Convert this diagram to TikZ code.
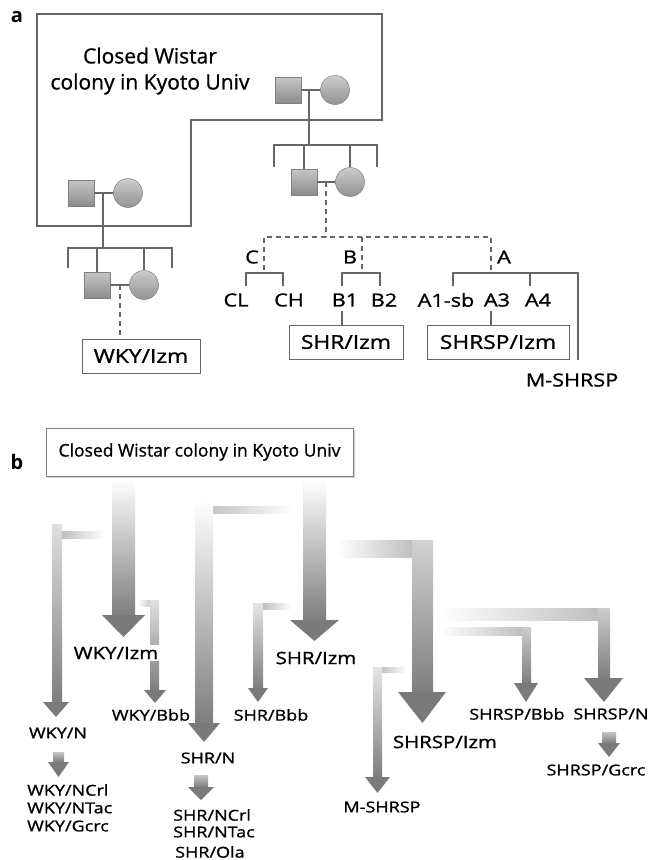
\documentclass[tikz,border=0pt]{standalone}
\usepackage{fontspec}
\setmainfont{Open Sans}
\newfontfamily\wf{Open Sans}[FakeStretch=1.2, FakeBold=1.2]
\newfontfamily\nf{Open Sans}[FakeBold=0.9]
\usetikzlibrary{calc}
\definecolor{lgray}{HTML}{666666}
\definecolor{agray}{HTML}{7E7E7E}
\definecolor{hgray}{HTML}{7A7A7A}
\tikzset{
  ln/.style={draw=lgray, line width=1.5pt},
  dln/.style={draw=lgray, line width=1.5pt, dash pattern=on 5pt off 4pt},
  male/.style={rectangle, draw=gray, line width=0.5pt, minimum width=26pt, minimum height=26pt, inner sep=0pt, top color=gray!45, bottom color=gray!90},
  female/.style={circle, draw=gray, line width=0.5pt, minimum size=29pt, inner sep=0pt, top color=gray!40, bottom color=gray!85},
  alab/.style={font=\wf\fontsize{18}{20}\selectfont, inner sep=1pt},
  abox/.style={draw=lgray, line width=1pt, inner sep=0pt, minimum height=34pt, font=\wf\fontsize{19}{21}\selectfont},
  blab/.style={font=\wf\fontsize{17}{19}\selectfont, inner sep=1.5pt, fill=white},
  slab/.style={font=\wf\fontsize{15}{17}\selectfont, inner sep=1pt},
  panel/.style={font=\fontsize{20}{22}\selectfont\bfseries}
}
\begin{document}
\begin{tikzpicture}[x=1pt,y=-1pt]
\useasboundingbox (0,0) rectangle (653,860);
% ---------------- panel a ----------------
\node[panel] (la) at (17,17) {a};
\draw[ln, line width=1.3pt] (37,14) -- (382,14) -- (382,120) -- (191,120) -- (191,226) -- (37,226) -- cycle;
\node[align=center, font=\nf\fontsize{21}{26}\selectfont] (cw) at (150,71) {Closed Wistar\\colony in Kyoto Univ};
% top couple
\node[male] (m1) at (288,90) {};
\node[female] (f1) at (335,90) {};
\draw[ln] (m1) -- (f1);
\coordinate (c1) at (309,90);
\coordinate (s1) at (309,145);
\draw[ln] (c1) -- (s1);
\draw[ln] (274,167) -- (274,145) -- (377,145) -- (377,167);
% second couple
\node[male] (m2) at (304,182) {};
\node[female] (f2) at (350,182) {};
\draw[ln] (m2) -- (f2);
\draw[ln] (304,145) -- (m2.north);
\draw[ln] (350,145) -- (f2.north);
\coordinate (c2) at (326,182);
\coordinate (d2) at (326,237);
\draw[dln] (c2) -- (d2);
\draw[dln] (264,270) -- (264,237) -- (491,237) -- (491,273);
\draw[dln] (362,237) -- (362,273);
% left couple
\node[male] (m3) at (81,193) {};
\node[female] (f3) at (128,193) {};
\draw[ln] (m3) -- (f3);
\coordinate (c3) at (103,193);
\coordinate (s3) at (103,248);
\draw[ln] (c3) -- (s3);
\draw[ln] (68,268) -- (68,248) -- (172,248) -- (172,268);
\node[male] (m4) at (97,285) {};
\node[female] (f4) at (144,285) {};
\draw[ln] (m4) -- (f4);
\draw[ln] (97,248) -- (m4.north);
\draw[ln] (144,248) -- (f4.north);
\node[abox, minimum width=118pt] (wkyizm) at (141,356) {WKY/Izm};
\coordinate (c4) at (120,285);
\draw[dln] (c4) -- (c4 |- wkyizm.north);
% C group
\node[alab] (lC) at (252,257) {C};
\draw[ln] (246,286) -- (246,273) -- (283,273) -- (283,286);
\node[alab] (CL) at (236,300) {CL};
\node[alab] (CH) at (289,300) {CH};
% B group
\node[alab] (lB) at (350,257) {B};
\draw[ln] (342,286) -- (342,273) -- (380,273) -- (380,286);
\node[alab] (B1) at (345,300) {B1};
\node[alab] (B2) at (384,300) {B2};
\node[abox, minimum width=114pt] (shrizm) at (346,342) {SHR/Izm};
\coordinate (b1d) at (342,311);
\draw[ln] (b1d) -- (b1d |- shrizm.north);
% A group
\node[alab] (lA) at (504,257) {A};
\draw[ln] (453,286) -- (453,273) -- (578,273) -- (578,360);
\draw[ln] (530,273) -- (530,286);
\node[alab] (A1) at (446,300) {A1-sb};
\node[alab] (A3) at (497,300) {A3};
\node[alab] (A4) at (538,300) {A4};
\node[abox, minimum width=142pt] (shrspizm) at (498,342) {SHRSP/Izm};
\coordinate (a3d) at (491,311);
\draw[ln] (a3d) -- (a3d |- shrspizm.north);
\node[alab] (mshrspa) at (572,380) {M-SHRSP};
% ---------------- panel b ----------------
\node[panel] (lb) at (17,462) {b};
\fill[gray!35] (48,430) rectangle (355,478);
\node[draw=gray, line width=1pt, fill=white, minimum width=307pt, minimum height=48pt, font=\nf\fontsize{17.5}{19}\selectfont] (cwb) at (199.5,452) {Closed Wistar colony in Kyoto Univ};
% WKY/Izm big arrow
\shade[top color=white, bottom color=agray] (112,479) rectangle (135,615);
\fill[hgray] (102,615) -- (145,615) -- (123.5,637) -- cycle;
% SHR/Izm big arrow
\shade[top color=white, bottom color=agray] (303,479) rectangle (326,620);
\fill[hgray] (290,620) -- (339,620) -- (314.5,641) -- cycle;
% WKY/N
\shade[left color=gray!50, right color=white] (62,531) rectangle (104,538);
\shade[top color=gray!25, bottom color=agray] (52,524) rectangle (62,702);
\fill[hgray] (43,702) -- (69,702) -- (56,717) -- cycle;
% WKY/Bbb
\shade[left color=white, right color=gray!40] (138,600) rectangle (150,606);
\shade[top color=gray!25, bottom color=agray] (150,600) rectangle (159,690);
\fill[hgray] (144,690) -- (166,690) -- (155,703) -- cycle;
% SHR/N
\shade[left color=gray!45, right color=white] (213,506) rectangle (294,513);
\shade[top color=white, bottom color=agray] (195,500) rectangle (213,723);
\fill[hgray] (188,723) -- (220,723) -- (204,742) -- cycle;
% SHR/Bbb
\shade[left color=gray!50, right color=white] (263,603) rectangle (291,609);
\shade[top color=gray!20, bottom color=agray] (253,603) rectangle (263,688);
\fill[hgray] (248,688) -- (268,688) -- (258,702) -- cycle;
% SHRSP/Izm
\shade[left color=white, right color=gray!50] (337,540) rectangle (412,557);
\shade[top color=gray!35, bottom color=agray] (412,540) rectangle (433,692);
\fill[hgray] (398,692) -- (446,692) -- (422.5,723) -- cycle;
% SHRSP/N
\shade[left color=white, right color=gray!50] (440,608) rectangle (598,620);
\shade[top color=gray!40, bottom color=agray] (598,608) rectangle (610,678);
\fill[hgray] (584,678) -- (623,678) -- (604,702) -- cycle;
% SHRSP/Bbb
\shade[left color=white, right color=gray!50] (440,627) rectangle (522,635);
\shade[top color=gray!40, bottom color=agray] (522,627) rectangle (531,683);
\fill[hgray] (514,683) -- (538,683) -- (526,702) -- cycle;
% M-SHRSP
\shade[left color=gray!45, right color=white] (382,667) rectangle (407,672);
\shade[top color=gray!20, bottom color=agray] (373,667) rectangle (382,777);
\fill[hgray] (365,777) -- (390,777) -- (377.5,793) -- cycle;
% small arrows
\shade[top color=gray!45, bottom color=agray] (53,752) rectangle (64,762);
\fill[hgray] (48,762) -- (69,762) -- (58.5,777) -- cycle;
\shade[top color=gray!45, bottom color=agray] (194,775) rectangle (208,787);
\fill[hgray] (188,787) -- (214,787) -- (201,800) -- cycle;
\shade[top color=gray!45, bottom color=agray] (602,732) rectangle (616,743);
\fill[hgray] (598,743) -- (620,743) -- (609,757) -- cycle;
% labels
\node[blab] (bwkyizm) at (116,653) {WKY/Izm};
\node[blab] (bshrizm) at (316,658) {SHR/Izm};
\node[blab] (bshrspizm) at (445,742) {SHRSP/Izm};
\node[slab] (wkyn) at (58,733) {WKY/N};
\node[slab] (wkybbb) at (151,715) {WKY/Bbb};
\node[slab] (shrn) at (208,758) {SHR/N};
\node[slab] (shrbbb) at (271,715) {SHR/Bbb};
\node[slab] (shrspbbb) at (517,714) {SHRSP/Bbb};
\node[slab] (shrspn) at (611,714) {SHRSP/N};
\node[slab] (shrspgcrc) at (596,770) {SHRSP/Gcrc};
\node[slab] (mshrspb) at (382,807) {M-SHRSP};
\node[slab, anchor=west] (wky1) at (26,790) {WKY/NCrl};
\node[slab, anchor=west] (wky2) at (26,808) {WKY/NTac};
\node[slab, anchor=west] (wky3) at (26,826) {WKY/Gcrc};
\node[slab, anchor=west] (shr1) at (172,815) {SHR/NCrl};
\node[slab, anchor=west] (shr2) at (172,832) {SHR/NTac};
\node[slab, anchor=west] (shr3) at (174,852) {SHR/Ola};
\end{tikzpicture}
\end{document}
